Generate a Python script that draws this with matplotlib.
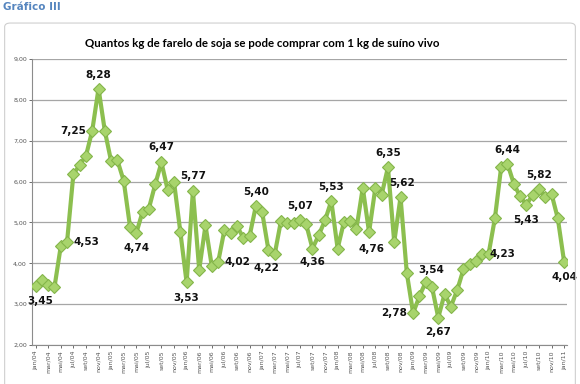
import numpy as np
import matplotlib.pyplot as plt
from matplotlib.patches import FancyBboxPatch

# monthly ratio, jan/04 .. jan/11
months = ['jan', 'fev', 'mar', 'abr', 'mai', 'jun', 'jul', 'ago', 'set', 'out', 'nov', 'dez']
years = ['04', '05', '06', '07', '08', '09', '10', '11']
categories = [m + '/' + y for y in years for m in months][:85]

v2004 = [3.45, 3.59, 3.47, 3.42, 4.42, 4.53, 6.18, 6.41, 6.63, 7.25, 8.28, 7.24]
v2005 = [6.50, 6.52, 6.02, 4.90, 4.74, 5.26, 5.34, 5.93, 6.47, 5.79, 5.99, 4.77]
v2006 = [3.53, 5.77, 3.84, 4.93, 3.93, 4.02, 4.81, 4.74, 4.91, 4.63, 4.66, 5.40]
v2007 = [5.26, 4.33, 4.22, 5.04, 4.99, 4.99, 5.07, 4.96, 4.36, 4.69, 5.05, 5.53]
v2008 = [4.36, 5.01, 5.04, 4.85, 5.85, 4.76, 5.85, 5.68, 6.35, 4.52, 5.62, 3.76]
v2009 = [2.78, 3.19, 3.54, 3.42, 2.67, 3.25, 2.94, 3.34, 3.85, 3.99, 4.06, 4.22]
v2010 = [4.23, 5.10, 6.36, 6.44, 5.95, 5.64, 5.43, 5.68, 5.82, 5.62, 5.70, 5.10]
v2011 = [4.04]
values = v2004 + v2005 + v2006 + v2007 + v2008 + v2009 + v2010 + v2011

# labelled points
labelled = ['jan/04', 'jun/04', 'out/04', 'nov/04', 'mai/05', 'set/05', 'jan/06', 'fev/06',
            'jun/06', 'dez/06', 'mar/07', 'jul/07', 'set/07', 'dez/07', 'jun/08', 'set/08',
            'nov/08', 'jan/09', 'mar/09', 'mai/09', 'jan/10', 'abr/10', 'jul/10', 'set/10',
            'jan/11']
offsets = [(3, -11), (14, 0), (-14, 0), (0, 10), (0, -11), (0, 11), (0, -11), (0, 11),
           (14, 0), (0, 10), (-6, -10), (0, 10), (0, -10), (0, 10), (2, -12), (0, 10),
           (1, 10), (-14, 0), (4, 9), (0, -10), (10, 0), (0, 10), (0, -11), (0, 10),
           (0, -11)]

fig = plt.figure(figsize=(5.8, 3.84), dpi=100)
ax = fig.add_axes([0.056, 0.1016, 0.922, 0.7445])

# chart frame
fig.patches.append(FancyBboxPatch((0.008, -0.05), 0.984, 0.99, boxstyle='round,pad=0,rounding_size=0.01',
                                  transform=fig.transFigure, fc='none', ec='#cfcfcf', lw=0.8))

x = np.arange(len(values))
ax.plot(x, values, color='#8cbf4f', lw=3, marker='D', ms=6,
        mfc='#a8d46c', mec='#84b54a', mew=0.8, zorder=3)

for cat, off in zip(labelled, offsets):
    i = categories.index(cat)
    txt = ('%.2f' % values[i]).replace('.', ',')
    ax.annotate(txt, (i, values[i]), xytext=off, textcoords='offset points',
                ha='center', va='center', fontsize=7.5, fontweight='bold', color='#111111')

ax.set_xlim(-0.5, len(values) - 0.5)
ax.set_ylim(2, 9)
ax.set_yticks(range(2, 10))
ax.set_yticklabels(['%d,00' % v for v in range(2, 10)])
ax.set_xticks(x[::2])
ax.set_xticklabels(categories[::2], rotation=90)
ax.tick_params(axis='both', labelsize=4.5, colors='#555555', length=2, width=0.6, pad=2)
ax.grid(axis='y', color='#a6a6a6', lw=0.9)
ax.set_axisbelow(True)
for s in ['top', 'right']:
    ax.spines[s].set_visible(False)
for s in ['left', 'bottom']:
    ax.spines[s].set_color('#8c8c8c')
    ax.spines[s].set_linewidth(0.8)

fig.text(0.006, 0.982, 'Gráfico III', fontsize=7.5, fontweight='bold', color='#5585bf',
         ha='left', va='center')
fig.text(0.452, 0.888, 'Quantos kg de farelo de soja se pode comprar com 1 kg de suíno vivo',
         fontsize=8.3, fontweight='bold', family='Lato', ha='center', va='center')

fig.savefig('out.png', dpi=100)
